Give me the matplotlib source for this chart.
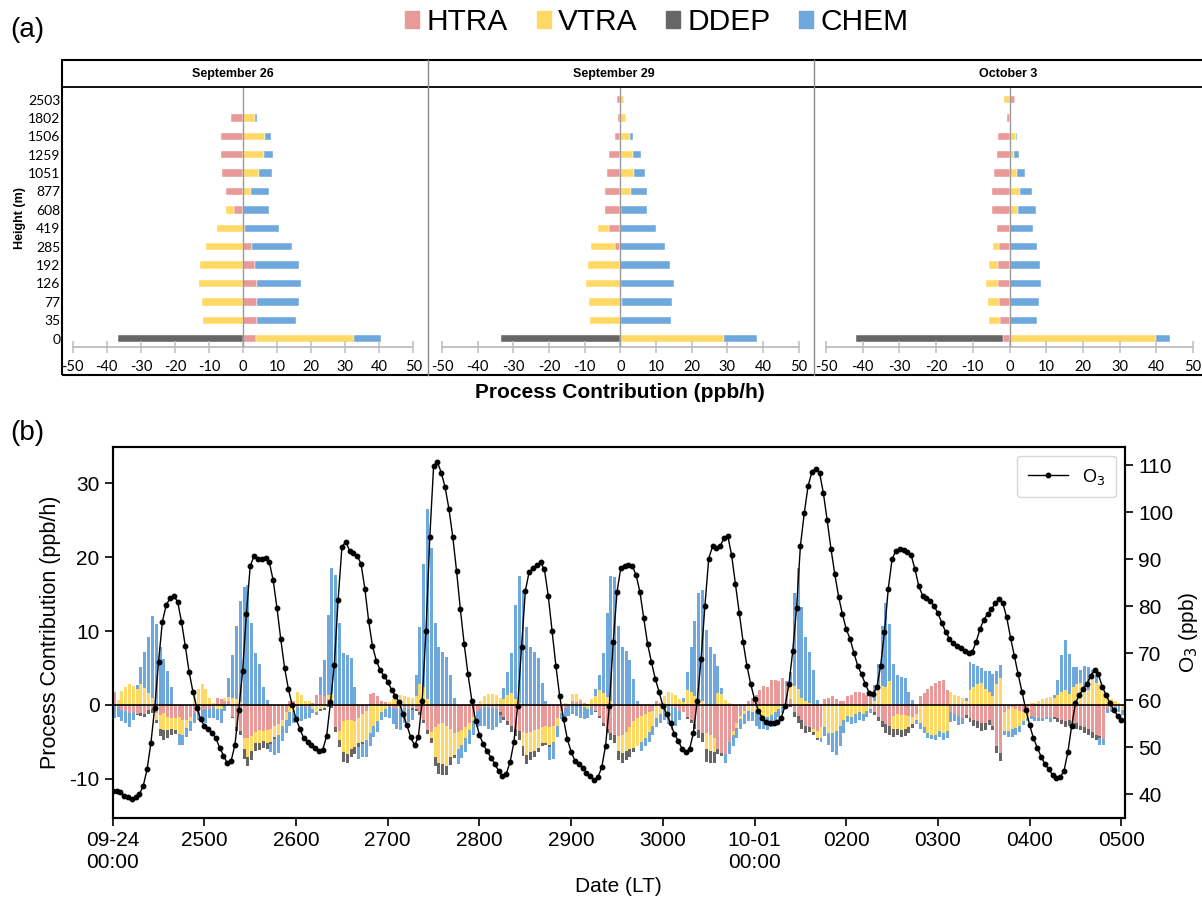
import matplotlib.pyplot as plt
import matplotlib.patches as mpatches
from matplotlib.lines import Line2D
import numpy as np

plt.rcParams['font.family'] = ['Liberation Sans', 'DejaVu Sans']
plt.rcParams['axes.unicode_minus'] = False

W, H = 1202, 908

processes = ['HTRA', 'VTRA', 'DDEP', 'CHEM']
colors = {'HTRA': '#EA9999', 'VTRA': '#FFD966', 'DDEP': '#666666', 'CHEM': '#6FA8DC'}

# ---------------- panel (a): vertical profiles of process contributions
heights = ['0', '35', '77', '126', '192', '285', '419', '608', '877', '1051', '1259', '1506', '1802', '2503']

sep26_htra = [3.7, 4.2, 4.2, 4.2, 3.6, 2.5, 0.5, -2.7, -5.0, -6.1, -6.6, -6.4, -3.5, 0.0]
sep26_vtra = [28.8, -11.6, -12.1, -13.0, -12.7, -11.0, -7.5, -2.3, 2.3, 4.7, 6.1, 6.5, 3.5, 0.2]
sep26_ddep = [-36.8, 0, 0, 0, 0, 0, 0, 0, 0, 0, 0, 0, 0, 0]
sep26_chem = [7.9, 11.5, 12.2, 12.9, 12.9, 11.9, 10.2, 7.5, 5.2, 3.7, 2.6, 1.6, 0.6, 0.0]

sep29_htra = [0.0, 0.3, 0.5, 0.3, 0.0, -1.4, -3.1, -4.2, -4.2, -3.8, -3.1, -1.6, -0.7, -0.8]
sep29_vtra = [29.0, -8.5, -8.8, -9.6, -9.1, -6.8, -3.3, 0.3, 3.0, 3.8, 3.6, 2.6, 1.5, 1.1]
sep29_ddep = [-33.4, 0, 0, 0, 0, 0, 0, 0, 0, 0, 0, 0, 0, 0]
sep29_chem = [9.2, 13.8, 14.0, 14.7, 13.8, 12.4, 10.1, 7.2, 4.4, 3.0, 2.1, 1.0, 0.0, 0.0]

oct03_htra = [-1.8, -2.6, -2.8, -3.1, -3.1, -2.8, -3.4, -4.8, -4.9, -4.2, -3.3, -3.0, -0.6, 1.4]
oct03_vtra = [40.0, -2.9, -3.0, -3.2, -2.4, -1.6, 0.0, 2.3, 2.8, 2.1, 1.3, 1.8, 0.0, -1.4]
oct03_ddep = [-40.0, 0, 0, 0, 0, 0, 0, 0, 0, 0, 0, 0, 0, 0]
oct03_chem = [3.7, 7.6, 8.0, 8.6, 8.3, 7.4, 6.5, 4.9, 3.3, 2.0, 1.2, 0.3, 0.0, 0.0]

profile_titles = ['September 26', 'September 29', 'October 3']
profiles = [
    [sep26_htra, sep26_vtra, sep26_ddep, sep26_chem],
    [sep29_htra, sep29_vtra, sep29_ddep, sep29_chem],
    [oct03_htra, oct03_vtra, oct03_ddep, oct03_chem],
]

# ---------------- panel (b): hourly series, 09-24 00:00 .. 10-05 00:00
htra = [
    1.7, -0.3, -0.7, -0.8, -1.1, -0.9, -1.2, -1.1, -1.2, -0.7, -0.6, -1.1, -1.3, -1.1, -1.6, -1.8, -1.8, -1.6, -2.0, -2.0, -1.6, -1.1, -0.9, -0.7,
    -0.6, -0.5, -0.3, 0.9, 0.8, 0.6, 0.5, -1.6, -3.0, -3.5, -4.5, -4.5, -4.2, -3.6, -3.4, -3.5, -3.4, -3.2, -2.9, -2.6, -2.0, -1.0, 0.6, 0.5,
    -0.3, -0.2, -0.3, -0.3, 0.3, 1.3, 1.3, 1.2, 0.8, 0.3, -3.0, -3.5, -2.2, -2.0, -2.0, -2.2, -1.8, -1.2, -0.8, 1.5, 1.6, 1.2, 0.6, 0.4,
    -0.3, -0.4, -0.6, -0.7, -0.4, -0.5, -0.4, -0.5, -1.0, -2.0, -3.4, -3.6, -3.0, -2.6, -2.5, -2.8, -3.3, -3.8, -3.7, -3.4, -3.0, -2.4, -1.6, -0.8,
    -0.5, -0.3, -0.4, -0.4, -0.6, -1.0, -1.6, -2.2, -2.8, -3.2, -3.5, -3.6, -3.8, -3.6, -3.4, -3.2, -3.0, -2.8, -3.0, -2.8, -1.8, -0.8, -0.4, -0.2,
    0.5, 0.4, 0.5, 0.3, 0.2, -0.3, -0.8, -1.5, -2.4, -3.2, -3.8, -4.0, -4.2, -4.0, -3.6, -3.0, -2.2, -1.8, -1.5, -1.2, -1.0, -0.8, 0.5, 0.3,
    0.2, 0.2, -0.2, -0.4, -0.8, -1.0, -1.6, -2.0, -2.6, -3.4, -3.8, -3.8, -4.0, -4.5, -6.0, -6.5, -6.6, -5.0, -3.5, -2.5, -1.5, -0.8, 0.5, 1.0,
    1.4, 2.0, 2.6, 2.4, 3.4, 3.4, 3.2, 3.6, 2.8, 0.8, -1.0, -1.5, -2.0, -2.8, -3.0, -3.2, -3.5, -3.0, 0.8, 1.0, 1.2, 0.8, 0.6, 0.5,
    1.2, 1.4, 1.8, 1.8, 1.6, 1.4, 1.2, -1.0, -1.6, -2.2, -2.6, -2.8, -1.5, -1.2, -1.4, -1.4, -1.5, -1.6, -1.2, 1.2, 1.6, 2.2, 2.6, 3.0,
    3.2, 3.4, 2.0, -1.0, -1.2, -1.5, -1.8, -1.4, -1.8, -2.0, -2.2, -2.5, -2.5, -2.0, -2.8, -5.5, -6.5, -1.0, -0.5, -0.3, -0.5, -0.8, -1.0, -1.2,
    -1.5, -1.6, -1.8, -1.8, -1.6, -1.8, -1.6, -1.8, -2.0, -2.2, -2.0, -2.4, -2.5, -2.8, -3.0, -3.2, -3.6, -4.0, -4.2, -4.6, -0.6, -0.4, -0.3, -0.2, -0.2,
]
vtra = [
    0.0, 0.7, 1.9, 2.5, 2.8, 2.6, 2.2, 2.9, 2.3, 1.6, 0.9, -0.9, -1.9, -2.3, -1.8, -1.5, -1.6, -2.3, -2.0, -1.1, -0.5, 1.6, 2.1, 2.8,
    2.1, 0.9, 0.3, -0.5, -0.6, 0.3, 0.6, 1.0, 0.8, 0.4, -1.5, -2.5, -2.0, -1.6, -1.8, -1.4, -1.7, -1.8, -1.4, -1.4, -0.8, -1.0, -1.0, -0.8,
    1.7, 1.4, 0.6, 0.6, -0.5, -1.0, -0.5, -0.4, 0.6, 1.2, 0.0, -1.2, -4.2, -4.6, -4.0, -3.5, -3.4, -3.8, -4.0, -3.8, -2.8, -2.2, -1.0, -0.6,
    0.4, 0.8, 1.2, 1.3, 1.2, 1.1, 1.0, 1.2, 2.9, 2.5, 0.8, -0.8, -4.0, -5.2, -5.5, -5.5, -3.8, -2.9, -2.3, -2.0, -1.5, -1.0, -0.6, 0.0,
    0.6, 1.2, 1.5, 1.5, 1.3, 0.9, 0.8, 1.4, 1.6, 0.8, 0.3, -2.0, -3.0, -2.8, -2.8, -2.6, -2.2, -2.4, -2.4, -2.2, -1.0, -0.3, 0.3, 0.2,
    1.0, 1.1, 0.3, -0.3, -0.5, 0.8, 1.2, 2.0, 1.6, 1.1, 0.5, 0.0, -2.0, -2.5, -2.6, -3.0, -3.6, -3.8, -3.5, -3.2, -2.6, -2.0, -1.8, -1.2,
    1.0, 1.5, 1.6, 1.3, 0.8, 0.4, 2.0, 1.8, 1.2, 0.8, 0.5, -2.1, -2.2, -1.8, 1.6, 1.5, 0.7, 0.3, -0.5, -0.6, -0.4, -0.4, -0.8, -1.0,
    -1.0, -1.2, -1.5, -1.6, -1.4, -1.0, -0.6, -0.3, -0.2, 1.7, 2.6, 2.2, 1.0, 0.6, 0.3, -0.5, -1.0, -1.5, -3.0, -3.8, -3.8, -3.5, -2.8, -2.0,
    -1.5, -1.6, -1.2, -1.0, -1.2, -0.8, -0.6, 0.6, 2.2, 2.6, 2.5, 3.2, -1.8, -2.0, -2.0, -1.8, -1.5, -1.0, -0.8, -2.4, -3.0, -3.8, -4.0, -4.0,
    -3.5, -3.8, -3.5, 1.7, 1.4, 1.2, 1.0, 0.5, 2.0, 2.4, 2.8, 3.0, 2.2, 1.8, 1.2, 2.8, 3.6, -2.5, -3.0, -3.0, -2.6, -2.0, -1.2, -0.6,
    0.3, 0.3, 0.6, 0.8, 1.0, 1.1, 1.0, 1.4, 1.8, 2.0, 1.5, 2.5, 2.8, 3.0, 2.5, 2.0, 3.6, 3.0, 2.8, 1.8, 1.2, 0.8, 0.5, 0.3, -0.5,
]
ddep = [
    0, 0, 0, 0, 0, 0, -0.2, -0.4, -0.4, -0.5, -0.5, -0.5, -1.0, -1.3, -1.0, -0.8, -0.5, 0, 0, 0, 0, 0, 0, 0,
    0, 0, 0, 0, 0, 0, 0, -0.2, -0.5, -0.6, -1.3, -1.3, -1.2, -1.0, -0.9, -0.9, -0.8, -0.3, -0.3, 0, 0, 0, 0, 0,
    0, 0, 0, 0, 0, 0, -0.3, -0.3, -0.3, -0.4, -0.6, -1.0, -1.3, -1.3, -1.0, -0.9, -0.5, -0.3, 0, 0, 0, 0, 0, 0,
    0, 0, 0, 0, 0, 0, -0.3, -0.3, -0.4, -0.4, -0.5, -0.8, -1.2, -1.5, -1.5, -1.2, -1.0, -0.5, 0, 0, 0, 0, 0, 0,
    0, 0, 0, 0, 0, -0.3, -0.4, -0.5, -0.8, -1.0, -1.2, -1.3, -1.2, -1.0, -0.9, -0.6, -0.4, -0.2, -0.3, 0, 0, 0, 0, 0,
    0, 0, 0, 0, 0, 0, -0.2, -0.3, -0.4, -0.6, -1.0, -1.2, -1.2, -1.3, -1.2, -1.0, -0.5, 0, 0, 0, 0, 0, 0, 0,
    0, 0, 0, 0, 0, 0, -0.3, -0.4, -0.6, -1.0, -1.2, -1.8, -1.6, -1.5, -0.6, -0.4, 0, 0, 0, 0, 0, 0, 0, 0,
    0, 0, 0, 0, 0, 0, 0, 0, -0.2, -0.3, -0.6, -1.0, -1.2, -1.0, -0.7, -0.4, -0.3, 0, 0, 0, 0, 0, 0, 0,
    0, 0, 0, 0, 0, 0, 0, -0.3, -0.6, -0.8, -1.2, -1.3, -1.0, -0.9, -0.9, -1.0, -0.8, -0.5, 0, 0, 0, 0, 0, 0,
    0, 0, 0, 0, 0, 0, 0, -0.3, -0.5, -0.8, -0.9, -1.0, -0.9, -0.7, -0.6, -1.0, -1.1, 0, 0, 0, 0, 0, 0, 0,
    0, 0, 0, 0, 0, 0, -0.3, -0.5, -0.6, -0.8, -0.8, -0.9, -0.8, -0.6, -0.8, -0.9, -0.8, -0.8, -0.3, 0, 0, 0, 0, 0, 0,
]
chem = [
    -1.8, -1.3, -1.4, -1.7, -1.9, -1.1, 0.5, 2.3, 4.9, 7.6, 11.1, 11.0, 7.9, 6.2, 4.6, 2.5, 0.0, -1.5, -1.4, -1.2, -1.4, -1.4, -1.1, -1.6,
    -1.9, -1.2, -1.4, -1.5, -1.8, -0.8, 2.5, 5.8, 9.9, 13.7, 15.9, 16.2, 11.1, 7.1, 5.6, 2.5, 0.7, -1.0, -2.2, -2.5, -2.1, -1.8, -1.9, -1.6,
    -1.8, -2.0, -1.6, -1.4, -0.6, -0.3, 2.5, 4.9, 10.8, 17.0, 17.6, 11.1, 7.0, 6.8, 6.3, 2.5, -1.6, -1.8, -2.2, -1.8, -1.5, -1.4, -1.0, -1.0,
    -1.5, -2.2, -2.7, -2.7, -2.1, -1.8, -1.3, 2.8, 7.7, 16.6, 25.7, 21.2, 11.1, 7.9, 7.2, 6.5, 4.1, 0.9, -2.0, -1.8, -1.8, -1.9, -1.9, -2.2,
    -2.4, -2.6, -2.8, -3.0, -2.4, -1.2, 1.5, 3.1, 5.4, 12.7, 17.1, 15.5, 10.5, 7.8, 7.2, 6.3, 3.0, 0.5, -1.7, -2.3, -1.5, -0.8, -1.2, -1.3,
    -1.2, -1.5, -1.8, -1.6, -1.2, -1.0, 1.0, 2.0, 5.4, 11.4, 17.0, 17.3, 10.7, 7.9, 7.3, 6.1, 3.5, 0.5, -1.2, -1.2, -1.4, -1.3, -1.2, -1.3,
    -2.0, -2.6, -3.2, -2.5, -1.2, 0.5, 2.4, 6.0, 10.2, 14.4, 15.0, 10.1, 7.8, 6.9, 3.7, 0.8, -1.3, -1.6, -1.6, -1.3, -1.4, -1.4, -1.3, -1.2,
    -1.8, -2.0, -1.8, -1.8, -1.6, -1.3, -1.0, -0.8, 0.5, 2.0, 12.5, 16.3, 12.3, 8.6, 6.9, 4.7, 0.7, -0.5, -1.2, -1.6, -2.5, -3.2, -2.8, -1.8,
    -0.8, -1.0, -1.2, -1.0, -1.0, -0.8, -0.5, 2.1, 3.4, 8.1, 11.3, 7.8, 5.5, 4.1, 3.8, 3.6, 1.8, 0.7, -0.6, -0.8, -0.8, -0.6, -0.6, -0.7,
    -0.8, -0.9, -1.0, -1.3, -1.0, -1.2, -0.8, 0.4, 3.8, 3.2, 2.5, 2.0, 2.4, 2.8, 3.0, 1.8, 1.8, -0.6, -0.8, -1.0, -1.0, -0.8, -0.5, -0.4,
    -0.4, -0.5, -0.3, -0.4, -0.3, -0.5, 0.3, 2.0, 5.0, 6.8, 5.4, 2.6, 2.4, 1.8, 2.8, 3.2, 1.2, 1.0, -0.9, -0.8, -0.5, -0.5, -0.6, -0.8, -0.7,
]
o3 = [
    40.7, 40.7, 40.5, 39.7, 39.3, 39.0, 39.3, 40.0, 41.8, 45.3, 50.9, 58.4, 68.2, 76.7, 80.2, 81.7, 82.2, 80.9, 76.7, 71.5, 66.0, 61.8, 58.4, 56.0,
    54.5, 53.8, 53.1, 51.9, 49.9, 48.2, 46.6, 47.1, 50.5, 58.0, 66.1, 78.4, 88.6, 90.6, 90.0, 90.1, 90.2, 89.3, 85.5, 79.6, 72.9, 66.8, 62.3, 58.9,
    56.0, 53.9, 51.9, 51.2, 50.4, 49.8, 49.1, 49.5, 52.4, 59.5, 67.5, 81.3, 92.6, 93.7, 91.8, 91.3, 90.7, 89.0, 83.7, 76.8, 71.5, 68.4, 66.4, 65.2,
    63.9, 62.2, 60.9, 59.5, 57.0, 54.7, 52.1, 50.4, 52.1, 59.9, 74.7, 94.6, 109.9, 110.6, 108.4, 105.3, 100.7, 94.8, 87.5, 79.3, 71.9, 65.5, 59.9, 55.6,
    52.6, 50.6, 49.1, 47.8, 46.4, 45.0, 43.9, 44.3, 46.8, 51.0, 58.8, 71.2, 83.2, 87.3, 88.0, 88.7, 89.3, 87.8, 82.2, 74.7, 67.3, 60.8, 56.0, 51.7,
    49.0, 47.1, 46.4, 45.5, 44.6, 43.8, 43.0, 43.6, 45.7, 50.3, 58.8, 72.3, 83.0, 88.2, 88.6, 88.7, 88.5, 86.6, 83.0, 77.4, 72.0, 68.1, 64.6, 61.8,
    58.8, 57.0, 55.1, 52.8, 51.4, 49.7, 48.9, 49.6, 53.1, 59.9, 68.7, 80.0, 90.1, 92.7, 92.3, 92.8, 94.4, 94.9, 90.8, 84.7, 78.5, 72.4, 67.3, 63.4,
    60.2, 57.7, 56.3, 55.4, 55.1, 55.1, 55.4, 56.3, 58.8, 63.4, 70.5, 79.7, 92.8, 99.7, 105.5, 108.5, 109.2, 108.4, 104.1, 98.3, 92.2, 86.8, 82.0, 78.3,
    75.1, 73.0, 70.1, 67.3, 65.5, 63.4, 61.6, 61.3, 62.7, 67.3, 74.5, 83.7, 90.0, 91.8, 92.2, 92.0, 91.6, 90.8, 87.8, 84.2, 82.2, 81.7, 81.1, 80.0,
    78.5, 76.5, 74.5, 73.1, 72.1, 71.5, 71.0, 70.5, 70.0, 70.3, 72.4, 75.1, 77.1, 78.3, 79.3, 80.6, 81.5, 80.6, 77.6, 73.3, 69.4, 65.5, 61.8, 58.0,
    54.7, 51.9, 49.9, 48.0, 46.4, 45.3, 44.1, 43.4, 43.6, 45.0, 48.9, 54.5, 59.4, 61.1, 62.3, 63.5, 65.2, 66.4, 65.5, 62.9, 61.1, 59.4, 58.0, 56.7, 55.8,
]
date_labels = ['09-24\n00:00', '2500', '2600', '2700', '2800', '2900', '3000',
               '10-01\n00:00', '0200', '0300', '0400', '0500']


def frac(x0, y0, x1, y1):
    # pixel box (top-left origin) -> figure fraction rect
    return [x0 / W, 1 - y1 / H, (x1 - x0) / W, (y1 - y0) / H]


fig = plt.figure(figsize=(W / 100, H / 100), dpi=100)

# ---------- (a) frame, facet strips
fig.add_artist(mpatches.Rectangle((62 / W, 1 - 375 / H), (1260 - 62) / W, (375 - 60) / H,
                                  fill=False, ec='black', lw=1.5))
fig.add_artist(Line2D([62 / W, 1.0], [1 - 87 / H] * 2, color='black', lw=1.3))
for xd in (428, 814):
    fig.add_artist(Line2D([xd / W] * 2, [1 - 375 / H, 1 - 60 / H], color='#8c8c8c', lw=1))

panel_px = [(72.7, 413.3, 233), (442, 798.7, 614), (826, 1193, 1008)]
ypos = np.arange(len(heights))
for k, (x0, x1, xt) in enumerate(panel_px):
    ax = fig.add_axes(frac(x0, 87, x1, 347.3))
    ax.patch.set_alpha(0)
    pos = np.zeros(len(heights))
    neg = np.zeros(len(heights))
    for name, vals in zip(processes, profiles[k]):
        v = np.array(vals, dtype=float)
        left = np.where(v >= 0, pos, neg)
        ax.barh(ypos, v, left=left, height=0.4, color=colors[name], edgecolor='white', linewidth=0.3)
        pos += np.clip(v, 0, None)
        neg += np.clip(v, None, 0)
    ax.axvline(0, color='#9a9a9a', lw=1, zorder=3)
    ax.set_xlim(-50, 50)
    ax.set_ylim(-0.47, 13.68)
    ax.set_xticks(range(-50, 51, 10))
    for s in ('top', 'right', 'left'):
        ax.spines[s].set_visible(False)
    ax.spines['bottom'].set_color('#bdbdbd')
    ax.spines['bottom'].set_linewidth(1.3)
    ax.tick_params(axis='x', direction='inout', length=8, width=1.1, color='#bdbdbd',
                   labelsize=10.5, pad=5)
    ax.set_yticks(ypos)
    if k == 0:
        ax.set_yticklabels(heights, fontsize=10)
        ax.tick_params(axis='y', length=0, pad=9)
    else:
        ax.set_yticklabels([])
        ax.tick_params(axis='y', length=0)
    for lab in ax.get_xticklabels() + ax.get_yticklabels():
        lab.set_family(['Lato', 'DejaVu Sans'])
    fig.text(xt / W, 1 - 74 / H, profile_titles[k], ha='center', va='center',
             fontsize=9, fontweight='bold')

fig.text(20 / W, 1 - 218 / H, 'Height (m)', rotation=90, ha='center', va='center',
         fontsize=9, fontweight='bold')
fig.text(620 / W, 1 - 392 / H, 'Process Contribution (ppb/h)', ha='center', va='center',
         fontsize=15, fontweight='bold')
fig.text(10 / W, 1 - 30 / H, '(a)', fontsize=20, va='center')
fig.text(10 / W, 1 - 433 / H, '(b)', fontsize=20, va='center')

handles = [mpatches.Patch(color=colors[p], label=p) for p in processes]
fig.legend(handles=handles, loc='center', bbox_to_anchor=(657 / W, 1 - 22 / H), ncol=4,
           frameon=False, fontsize=21.5, handlelength=0.47, handleheight=0.47,
           handletextpad=0.25, columnspacing=0.95)

# ---------- (b) hourly process contributions and O3
axb = fig.add_axes(frac(112.7, 446.7, 1125, 817.7))
t = np.arange(len(o3)) / 24.0
series = [htra, vtra, ddep, chem]
pos = np.zeros(len(t))
neg = np.zeros(len(t))
for name, vals in zip(processes, series):
    v = np.array(vals, dtype=float)
    bottom = np.where(v >= 0, pos, neg)
    axb.bar(t, v, bottom=bottom, width=0.78 / 24, align='edge', color=colors[name], linewidth=0)
    pos += np.clip(v, 0, None)
    neg += np.clip(v, None, 0)
axb.axhline(0, color='black', lw=1.2, zorder=3)
axb.set_xlim(0, 11.04)
axb.set_ylim(-15.25, 34.95)
axb.set_yticks([-10, 0, 10, 20, 30])
axb.set_xticks(range(12))
axb.set_xticklabels(date_labels)
axb.set_xlabel('Date (LT)', fontsize=15, labelpad=4)
axb.set_ylabel('Process Contribution (ppb/h)', fontsize=15.5, labelpad=6)
axb.tick_params(labelsize=15, width=1.2, length=6)
for s in axb.spines.values():
    s.set_linewidth(1.5)

ax2 = axb.twinx()
ax2.plot(t, o3, color='black', lw=1, marker='o', ms=3.2, label='O$_3$')
ax2.set_ylim(35, 113.9)
ax2.set_yticks(range(40, 111, 10))
ax2.set_ylabel('O$_3$ (ppb)', fontsize=15, labelpad=3)
ax2.tick_params(labelsize=15, width=1.2, length=6)
for s in ax2.spines.values():
    s.set_linewidth(1.5)
ax2.legend(loc='upper right', fontsize=13, handlelength=2.2, borderpad=0.6,
           edgecolor='#cccccc')

fig.savefig('out.png', dpi=100)
